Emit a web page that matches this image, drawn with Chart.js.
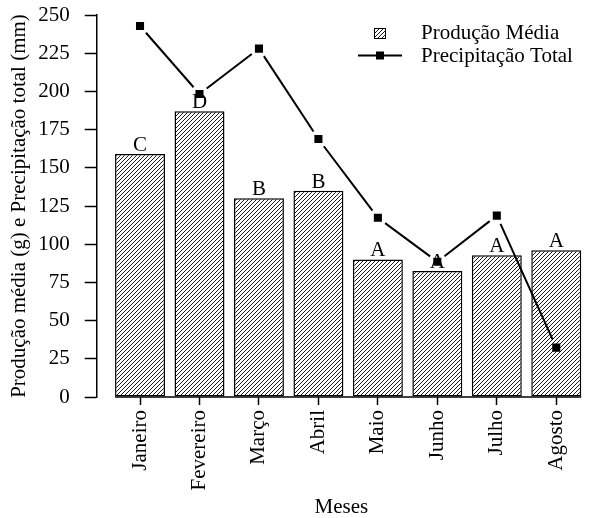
<!DOCTYPE html>
<html>
<head>
<meta charset="utf-8">
<script src="https://cdn.jsdelivr.net/npm/chart.js@4.4.0/dist/chart.umd.min.js"></script>
<style>
html,body{margin:0;padding:0;background:#fff;}
#wrap{width:593px;height:518px;}
</style>
</head>
<body>
<div id="wrap"><canvas id="c" width="593" height="518"></canvas></div>
<script>
const months = ['Janeiro','Fevereiro','Março','Abril','Maio','Junho','Julho','Agosto'];
const producao = [159, 187, 130, 135, 90, 82.5, 92.7, 96];
const precipitacao = [242.8, 198.3, 228, 168.8, 117.3, 88.5, 118.7, 32.3];
const letras = ['C','D','B','B','A','A','A','A'];
const yTicks = [0,25,50,75,100,125,150,175,200,225,250];

const FONT = 'Liberation Serif';
const canvas = document.getElementById('c');
const ctx = canvas.getContext('2d');

function makeHatch(){
  const s = 4;
  const c = document.createElement('canvas');
  c.width = s; c.height = s;
  const g = c.getContext('2d');
  g.fillStyle = '#fff'; g.fillRect(0,0,s,s);
  g.strokeStyle = '#1a1a1a'; g.lineWidth = 1;
  g.beginPath();
  g.moveTo(0,s); g.lineTo(s,0);
  g.moveTo(-1,1); g.lineTo(1,-1);
  g.moveTo(s-1,s+1); g.lineTo(s+1,s-1);
  g.stroke();
  return ctx.createPattern(c,'repeat');
}
const hatch = makeHatch();

const lettersPlugin = {
  id:'letters',
  afterDatasetDraw(chart, args){
    if(args.index !== 0) return;
    const c = chart.ctx;
    const meta = chart.getDatasetMeta(0);
    c.save();
    c.font = '21px "'+FONT+'"';
    c.fillStyle = '#000';
    c.textAlign = 'center';
    c.textBaseline = 'bottom';
    meta.data.forEach((el,i)=>{
      c.fillText(letras[i], el.x, el.y + 2);
    });
    const first = meta.data[0], last = meta.data[meta.data.length-1];
    const y0 = chart.scales.y.getPixelForValue(0);
    c.strokeStyle = '#000'; c.lineWidth = 1.5;
    c.beginPath();
    c.moveTo(first.x - first.width/2, y0);
    c.lineTo(last.x + last.width/2, y0);
    c.stroke();
    c.restore();
  }
};

const gapLinePlugin = {
  id:'gapline',
  beforeDatasetDraw(chart, args){
    if(args.index !== 1) return;
    const c = chart.ctx;
    const pts = chart.getDatasetMeta(1).data;
    const gap = 9;
    c.save();
    c.strokeStyle = '#000'; c.lineWidth = 2;
    c.beginPath();
    for(let i=0;i<pts.length-1;i++){
      const a = pts[i], b = pts[i+1];
      const dx = b.x - a.x, dy = b.y - a.y;
      const len = Math.hypot(dx,dy);
      if(len < 2*gap) continue;
      const ux = dx/len, uy = dy/len;
      c.moveTo(a.x + ux*gap, a.y + uy*gap);
      c.lineTo(b.x - ux*gap, b.y - uy*gap);
    }
    c.stroke();
    c.restore();
  }
};

const legendPlugin = {
  id:'customLegend',
  afterDraw(chart){
    const c = chart.ctx;
    c.save();
    c.fillStyle = hatch;
    c.fillRect(374, 28, 12, 11);
    c.strokeStyle = '#000'; c.lineWidth = 1;
    c.strokeRect(374.5, 28.5, 11, 10);
    c.lineWidth = 2;
    c.beginPath(); c.moveTo(358, 55.5); c.lineTo(402, 55.5); c.stroke();
    c.fillStyle = '#000';
    c.fillRect(376, 51.5, 8, 8);
    c.font = '21px "'+FONT+'"';
    c.textAlign = 'left'; c.textBaseline = 'middle';
    c.fillText(chart.data.datasets[0].label, 421, 33);
    c.fillText(chart.data.datasets[1].label, 421, 56);
    c.restore();
  }
};

function zeroPad(scale){
  scale.paddingTop = 0; scale.paddingBottom = 0;
  scale.paddingLeft = 0; scale.paddingRight = 0;
}

new Chart(canvas, {
  data:{
    datasets:[
      {
        type:'bar',
        label:'Produção Média',
        data: producao.map((v,i)=>({x:i, y:v})),
        backgroundColor: hatch,
        borderColor:'#000',
        borderWidth:1.5,
        borderSkipped:false,
        barPercentage:0.84,
        categoryPercentage:1,
        order:2
      },
      {
        type:'line',
        label:'Precipitação Total',
        data: precipitacao.map((v,i)=>({x:i, y:v})),
        showLine:false,
        pointStyle:'rect',
        pointRadius:5.7,
        pointBackgroundColor:'#000',
        pointBorderColor:'#000',
        pointBorderWidth:0,
        order:1
      }
    ]
  },
  options:{
    responsive:false,
    animation:false,
    layout:{padding:{top:15,right:7,bottom:0,left:0}},
    plugins:{legend:{display:false}, tooltip:{enabled:false}},
    scales:{
      x:{
        type:'linear',
        offset:false,
        min:-0.7286,
        max:7.5,
        afterBuildTicks(scale){ scale.ticks = months.map((m,i)=>({value:i})); },
        afterFit(scale){ scale.height = 121; zeroPad(scale); },
        ticks:{
          autoSkip:false,
          minRotation:90, maxRotation:90,
          padding:5,
          color:'#000',
          font:{family:FONT, size:21},
          callback:(v)=>months[v]
        },
        grid:{offset:false, drawOnChartArea:false, drawTicks:true, tickLength:8, tickColor:'#000', tickWidth:1.5},
        border:{display:false},
        title:{display:true, text:'Meses', color:'#000', font:{family:FONT, size:21, lineHeight:1}, padding:{top:0,bottom:0}}
      },
      y:{
        type:'linear',
        min:0, max:250,
        afterBuildTicks(scale){ scale.ticks = yTicks.map(v=>({value:v})); },
        afterFit(scale){ scale.width = 96.7; zeroPad(scale); },
        ticks:{padding:15, color:'#000', font:{family:FONT, size:21}},
        grid:{drawOnChartArea:false, drawTicks:true, tickLength:12, tickColor:'#000', tickWidth:1.5},
        border:{display:true, color:'#000', width:1.5},
        title:{display:true, text:'Produção média (g) e Precipitação total (mm)', color:'#000', font:{family:FONT, size:21, lineHeight:1.2}, padding:{top:7,bottom:0}}
      }
    }
  },
  plugins:[lettersPlugin, gapLinePlugin, legendPlugin]
});
</script>
</body>
</html>
